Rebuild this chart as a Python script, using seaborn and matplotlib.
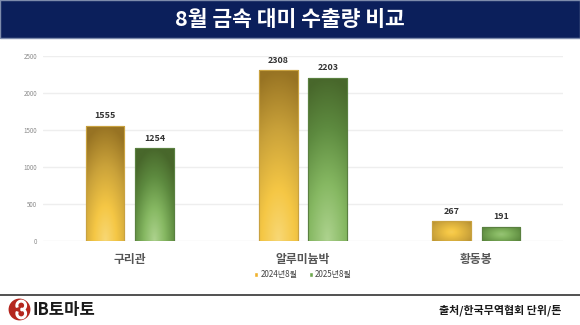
import numpy as np
import pandas as pd
import matplotlib
matplotlib.use("Agg")
import matplotlib.pyplot as plt
from matplotlib.colors import LinearSegmentedColormap
from matplotlib.patches import Rectangle, Circle, Wedge
import seaborn as sns

categories = ["구리관", "알루미늄박", "황동봉"]
series_names = ["2024년8월", "2025년8월"]
values_2024 = [1555, 2308, 267]
values_2025 = [1254, 2203, 191]
y_ticks = [0, 500, 1000, 1500, 2000, 2500]
title = "8월 금속 대미 수출량 비교"
source = "출처/한국무역협회 단위/톤"
logo_text = "IB토마토"

sns.set_theme(style="white")
plt.rcParams["font.family"] = ["Noto Sans CJK KR", "DejaVu Sans"]

df = pd.DataFrame({
    "category": categories * 2,
    "series": [series_names[0]] * 3 + [series_names[1]] * 3,
    "value": values_2024 + values_2025,
})

legend_colors = ["#f0b22e", "#6fa850"]

fig = plt.figure(figsize=(5.8, 3.25), dpi=100)
ax = fig.add_axes([43 / 580, (325 - 241) / 325, (563 - 43) / 580, (241 - 56) / 325])

sns.barplot(data=df, x="category", y="value", hue="series", order=categories,
            hue_order=series_names, palette=legend_colors, width=0.572, gap=0.22,
            ax=ax, legend=True, saturation=1, errorbar=None)

ax.set_xlim(-0.5, 2.5)
ax.set_ylim(0, 2500)
ax.set_yticks(y_ticks)
ax.set_yticklabels([str(v) for v in y_ticks], fontsize=4.5, color="#8a8a8a")
ax.yaxis.grid(True, color="#eeeeee", linewidth=1.0)
ax.set_axisbelow(True)
for s in ax.spines.values():
    s.set_visible(False)
ax.tick_params(axis="y", length=0, pad=4)
ax.tick_params(axis="x", length=0, pad=9)
for lbl in ax.get_xticklabels():
    lbl.set_fontsize(8.5)
    lbl.set_color("#555555")
    lbl.set_fontweight("bold")
ax.set_xlabel("")
ax.set_ylabel("")

cmap_gold = LinearSegmentedColormap.from_list(
    "gold", [(0, "#f8d876"), (0.3, "#f5c745"), (0.65, "#caa23a"), (1, "#977323")])
cmap_green = LinearSegmentedColormap.from_list(
    "green", [(0, "#aed38f"), (0.35, "#86b862"), (0.7, "#5d8a3f"), (1, "#48672b")])
edge_cols = ["#c9a240", "#5a8040"]

nx, ny = 60, 200
xs = np.linspace(0, 1, nx)
ys = np.linspace(0, 1, ny)
XX, YY = np.meshgrid(xs, ys)

n_cat = len(categories)
for i, p in enumerate(ax.patches[: 2 * n_cat]):
    series_idx = i // n_cat
    x0, y0 = p.get_x(), p.get_y()
    w, h = p.get_width(), p.get_height()
    if h <= 0:
        continue
    hfrac = min(1.0, h / 2300)
    if hfrac > 0.3:
        T = np.sqrt(((XX - 0.5) / 1.1) ** 2 * 0.6 + (YY * hfrac) ** 2)
        T = np.clip(T / hfrac, 0, 1)
    else:
        # short bars: radial glow centred in the bar
        T = np.sqrt(((XX - 0.5) / 0.5) ** 2 + ((YY - 0.45) / 0.6) ** 2)
        T = np.clip(0.2 + T * 0.45, 0, 1)
    cmap = cmap_gold if series_idx == 0 else cmap_green
    im = ax.imshow(T, cmap=cmap, vmin=0, vmax=1, origin="lower", aspect="auto",
                   extent=[x0, x0 + w, y0, y0 + h], zorder=p.get_zorder() + 0.1,
                   interpolation="bilinear")
    im.set_clip_path(p)
    p.set_edgecolor(edge_cols[series_idx])
    p.set_linewidth(0.8)
    border = Rectangle((x0, y0), w, h, fill=False, edgecolor=edge_cols[series_idx],
                       linewidth=0.8, zorder=p.get_zorder() + 0.2)
    ax.add_patch(border)
    ax.annotate(f"{int(round(h))}", (x0 + w / 2, y0 + h), xytext=(0, 4),
                textcoords="offset points", ha="center", va="bottom",
                fontsize=6.4, fontweight="bold", color="#333333")

ax.set_xlim(-0.5, 2.5)
ax.set_ylim(0, 2500)

leg = ax.legend(loc="upper center", bbox_to_anchor=(0.5, -0.14), ncol=2, frameon=False,
                fontsize=5.8, handlelength=0.55, handleheight=0.55, handletextpad=0.25,
                columnspacing=1.4, borderaxespad=0)
for t in leg.get_texts():
    t.set_color("#444444")

# title bar
fig.patches.append(Rectangle((0, 1 - 38 / 325), 1, 38 / 325, transform=fig.transFigure,
                             facecolor="#0b1f5b", edgecolor="#7d8bab", linewidth=1.0,
                             zorder=0))
fig.text(0.5, 1 - 19 / 325, title, ha="center", va="center", color="white",
         fontsize=15.5, fontweight="bold")

# footer line
fig.add_artist(plt.Line2D([0, 1], [1 - 295 / 325, 1 - 295 / 325], transform=fig.transFigure,
                          color="#333333", linewidth=1.2))

# logo
lax = fig.add_axes([8 / 580, 1 - 321 / 325, 23 / 580, 23 / 325])
lax.set_xlim(-1, 1)
lax.set_ylim(-1, 1)
lax.set_aspect("equal")
lax.axis("off")
lax.add_patch(Circle((0, 0), 0.95, facecolor="#b5261e", edgecolor="none"))
lax.add_patch(Wedge((0.15, 0.35), 0.45, -90, 200, width=0.14, facecolor="white"))
lax.add_patch(Wedge((0.15, -0.35), 0.45, -200, 90, width=0.14, facecolor="white"))
fig.text(33 / 580, 1 - 310 / 325, logo_text, ha="left", va="center", color="#1a1a1a",
         fontsize=12, fontweight="bold")

fig.text(561 / 580, 1 - 310 / 325, source, ha="right", va="center", color="#1a1a1a",
         fontsize=7.9, fontweight="bold")

fig.savefig("out.png", dpi=100)
